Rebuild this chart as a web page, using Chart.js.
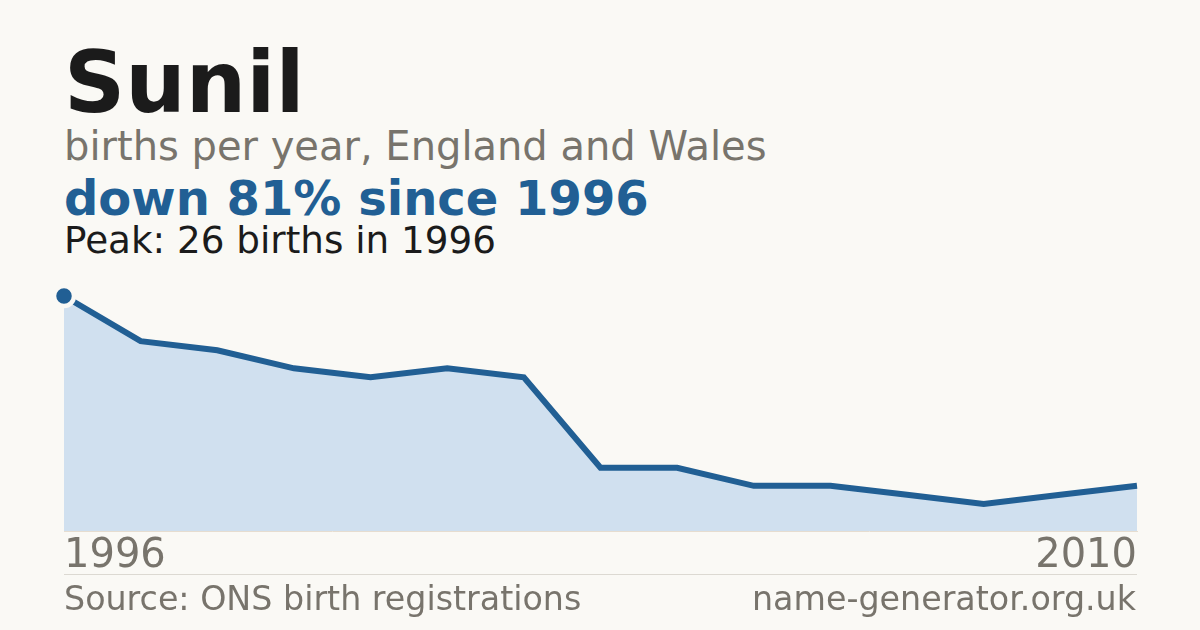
<!DOCTYPE html>
<html>
<head>
<meta charset="utf-8">
<script src="https://cdn.jsdelivr.net/npm/chart.js@4"></script>
<style>
    html, body { margin: 0; padding: 0; }
    body {
        width: 1200px; height: 630px; overflow: hidden; position: relative;
        background: #faf9f5; font-family: 'DejaVu Sans', sans-serif;
    }
    .txt { position: absolute; left: 64px; line-height: 1; white-space: nowrap; }
    #title { top: 40px; font-size: 85px; font-weight: bold; color: #1b1b1b; }
    #subtitle { top: 126px; font-size: 40px; color: #78746c; }
    #change { top: 174px; font-size: 48px; font-weight: bold; color: #215f94; }
    #peak { top: 222px; font-size: 37.3px; color: #1b1b1b; }
    #chart-wrap { position: absolute; left: 0; top: 280px; width: 1200px; height: 303px; }
    #rule { position: absolute; left: 64px; top: 574px; width: 1073px; height: 1px; background: #dcd9d2; }
    .foot { position: absolute; top: 582px; font-size: 33.3px; line-height: 1; color: #78746c; white-space: nowrap; }
    #source { left: 64px; }
    #site { right: 64px; }
</style>
</head>
<body>
<div id="title" class="txt">Sunil</div>
<div id="subtitle" class="txt">births per year, England and Wales</div>
<div id="change" class="txt">down 81% since 1996</div>
<div id="peak" class="txt">Peak: 26 births in 1996</div>
<div id="chart-wrap"><canvas id="nameChart"></canvas></div>
<div id="rule"></div>
<div id="source" class="foot">Source: ONS birth registrations</div>
<div id="site" class="foot">name-generator.org.uk</div>

<script>
// --- Data ---
const years = ['1996', '1997', '1998', '1999', '2000', '2001', '2002', '2003',
               '2004', '2005', '2006', '2007', '2008', '2009', '2010'];
const births = [26, 21, 20, 18, 17, 18, 17, 7, 7, 5, 5, 4, 3, 4, 5];
const yMax = 26;

const lineBlue = '#215f94';
const fillBlue = '#d0e0ef';

const ctx = document.getElementById('nameChart').getContext('2d');
new Chart(ctx, {
    type: 'line',
    data: {
        labels: years,
        datasets: [{
            data: births,
            borderColor: lineBlue,
            borderWidth: 6,
            backgroundColor: fillBlue,
            fill: 'origin',
            tension: 0,
            clip: false,
            // only the peak year gets a marker
            pointRadius: (c) => c.dataIndex === 0 ? 10 : 0,
            pointBackgroundColor: lineBlue,
            pointBorderColor: '#faf9f5',
            pointBorderWidth: 4.5
        }]
    },
    options: {
        responsive: true,
        maintainAspectRatio: false,
        animation: false,
        layout: { padding: { left: 64, right: 63, top: 16, bottom: 0 } },
        plugins: { legend: { display: false }, tooltip: { enabled: false } },
        scales: {
            y: { display: false, min: 0, max: yMax },
            x: {
                grid: { display: false, drawTicks: false },
                border: { display: true, color: '#e6ddd0', width: 1 },
                ticks: {
                    autoSkip: false,
                    maxRotation: 0,
                    align: 'inner',
                    padding: 2,
                    color: '#78746c',
                    font: { family: "'DejaVu Sans', sans-serif", size: 40 },
                    callback: (v, i) => (i === 0 || i === years.length - 1) ? years[i] : ''
                }
            }
        }
    }
});
</script>
</body>
</html>
